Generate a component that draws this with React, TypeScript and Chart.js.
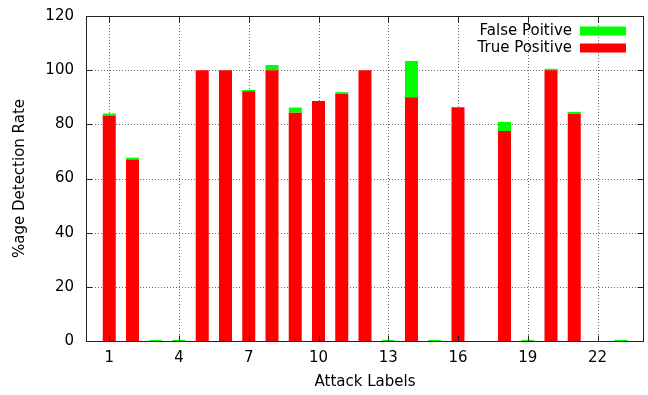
import React, { useEffect, useRef } from "react";
import { Chart, registerables } from "chart.js";

Chart.register(...registerables);

const categories = [1, 2, 3, 4, 5, 6, 7, 8, 9, 10, 11, 12, 13, 14, 15, 16, 17, 18, 19, 20, 21, 22, 23];
const truePositive = [83.3, 67, 0, 0, 100, 100, 92.2, 100, 84.3, 88.6, 91.2, 100, 0, 90, 0, 86.3, 0, 77.5, 0, 100, 83.8, 0, 0];
const falsePositive = [0.7, 0.7, 0.4, 0.4, 0, 0, 0.5, 1.9, 1.9, 0, 0.7, 0, 0.4, 13.4, 0.4, 0, 0, 3.4, 0.4, 0.5, 0.8, 0, 0.4];
const xTicks = [1, 4, 7, 10, 13, 16, 19, 22];
const yTicks = [0, 20, 40, 60, 80, 100, 120];
const legendOrder = ["False Poitive", "True Positive"];

const FONT = "DejaVu Sans";
const FS = 15;

const framePlugin = {
  id: "frame",
  beforeDatasetsDraw(chart: any) {
    const { ctx, chartArea, scales } = chart;
    const { left, right, top, bottom } = chartArea;
    ctx.save();
    ctx.strokeStyle = "#6a6a6a";
    ctx.lineWidth = 1;
    ctx.setLineDash([1, 2]);
    scales.x.ticks.forEach((t: any) => {
      const px = Math.round(scales.x.getPixelForValue(t.value)) + 0.5;
      ctx.beginPath();
      ctx.moveTo(px, top);
      ctx.lineTo(px, bottom);
      ctx.stroke();
    });
    scales.y.ticks.forEach((t: any) => {
      const py = Math.round(scales.y.getPixelForValue(t.value)) + 0.5;
      if (py <= top + 1 || py >= bottom - 1) return;
      ctx.beginPath();
      ctx.moveTo(left, py);
      ctx.lineTo(right, py);
      ctx.stroke();
    });
    ctx.restore();
  },
  afterDatasetsDraw(chart: any) {
    const { ctx, chartArea, scales } = chart;
    const { left, right, top, bottom } = chartArea;
    const L = Math.round(left) + 0.5;
    const R = Math.round(right) - 0.5;
    const T = Math.round(top) + 0.5;
    const B = Math.round(bottom) + 0.5;
    ctx.save();
    ctx.strokeStyle = "#222";
    ctx.lineWidth = 1;
    ctx.setLineDash([]);
    ctx.strokeRect(L, T, R - L, B - T);
    const tl = 6;
    ctx.beginPath();
    scales.x.ticks.forEach((t: any) => {
      const px = Math.round(scales.x.getPixelForValue(t.value)) + 0.5;
      ctx.moveTo(px, B);
      ctx.lineTo(px, B - tl);
      ctx.moveTo(px, T);
      ctx.lineTo(px, T + tl);
    });
    scales.y.ticks.forEach((t: any) => {
      const py = Math.round(scales.y.getPixelForValue(t.value)) + 0.5;
      ctx.moveTo(L, py);
      ctx.lineTo(L + tl, py);
      ctx.moveTo(R, py);
      ctx.lineTo(R - tl, py);
    });
    ctx.stroke();

    // legend
    ctx.font = `${FS}px "${FONT}"`;
    ctx.textAlign = "right";
    ctx.textBaseline = "middle";
    const ds = chart.data.datasets;
    legendOrder.forEach((name, i) => {
      const d = ds.find((x: any) => x.label === name);
      const cy = top + 15 + i * 17;
      ctx.fillStyle = "#000";
      ctx.fillText(name, right - 72, cy);
      ctx.fillStyle = d.backgroundColor;
      ctx.fillRect(right - 64, cy - 4.5, 46, 9);
    });
    ctx.restore();
  },
};

export default function App() {
  const ref = useRef<HTMLCanvasElement | null>(null);
  useEffect(() => {
    document.body.style.margin = "0";
    const canvas = ref.current;
    if (!canvas) return;
    const chart = new Chart(canvas, {
      type: "bar",
      data: {
        datasets: [
          {
            label: "True Positive",
            data: categories.map((c, i) => ({ x: c, y: truePositive[i] })),
            backgroundColor: "#ff0000",
            borderWidth: 0,
            barPercentage: 0.56,
            categoryPercentage: 1,
          },
          {
            label: "False Poitive",
            data: categories.map((c, i) => ({ x: c, y: falsePositive[i] })),
            backgroundColor: "#00ff00",
            borderWidth: 0,
            barPercentage: 0.56,
            categoryPercentage: 1,
          },
        ],
      },
      options: {
        responsive: false,
        animation: false,
        devicePixelRatio: 1,
        layout: { padding: { top: 16, right: 4, left: 0, bottom: 0 } },
        plugins: { legend: { display: false }, tooltip: { enabled: false } },
        scales: {
          x: {
            type: "linear",
            min: 0,
            max: 24,
            stacked: true,
            offset: false,
            grid: { display: false, drawTicks: false },
            border: { display: false },
            afterBuildTicks: (s: any) => {
              s.ticks = xTicks.map((v) => ({ value: v }));
            },
            afterFit: (s: any) => {
              s.height = 54;
              s.paddingLeft = 0;
              s.paddingRight = 0;
            },
            ticks: {
              autoSkip: false,
              maxRotation: 0,
              padding: 8,
              color: "#000",
              font: { family: FONT, size: FS },
            },
            title: {
              display: true,
              text: "Attack Labels",
              color: "#000",
              font: { family: FONT, size: FS },
              padding: { top: 0, bottom: 4 },
            },
          },
          y: {
            type: "linear",
            min: 0,
            max: 120,
            stacked: true,
            grid: { display: false, drawTicks: false },
            border: { display: false },
            afterBuildTicks: (s: any) => {
              s.ticks = yTicks.map((v) => ({ value: v }));
            },
            afterFit: (s: any) => {
              s.width = 86;
              s.paddingTop = 0;
              s.paddingBottom = 0;
            },
            ticks: {
              padding: 12,
              color: "#000",
              font: { family: FONT, size: FS },
            },
            title: {
              display: true,
              text: "%age Detection Rate",
              color: "#000",
              font: { family: FONT, size: FS },
              padding: { top: 11, bottom: 0 },
            },
          },
        },
      },
      plugins: [framePlugin],
    } as any);
    return () => chart.destroy();
  }, []);
  return (
    <div style={{ width: 648, height: 395 }}>
      <canvas ref={ref} width={648} height={395} style={{ display: "block" }} />
    </div>
  );
}
